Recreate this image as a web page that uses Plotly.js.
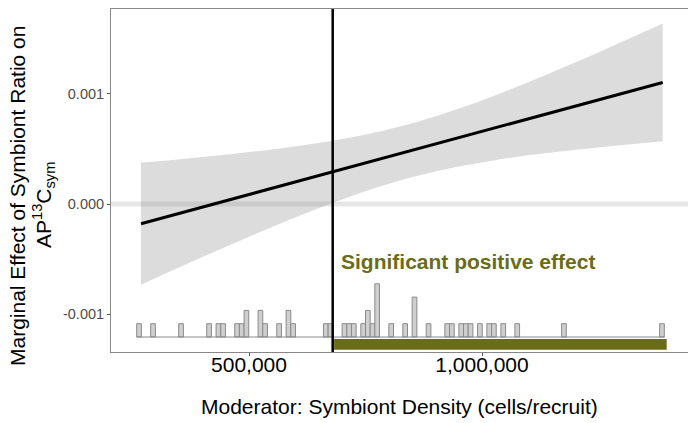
<!DOCTYPE html>
<html>
<head>
<meta charset="utf-8">
<script src="https://cdn.plot.ly/plotly-3.0.1.min.js"></script>
<style>html,body{margin:0;padding:0;background:#fff;}#chart{width:688px;height:423px;}</style>
</head>
<body>
<div id="chart"></div>
<script>
// Marginal effect line (moderator value -> effect)
const lineX = [268240, 1387770];
const lineY = [-0.000179, 0.001103];

// 95% confidence band
const bandX = [268240, 330470, 394850, 459230, 523600, 609440, 680260, 751070, 824030,
               888410, 952790, 1027900, 1103000, 1178110, 1253220, 1317600, 1387770];
const bandUpper = [0.000375, 0.000398, 0.000424, 0.000452, 0.000482, 0.000529, 0.000575, 0.000631, 0.000703,
                   0.000780, 0.000868, 0.000985, 0.001112, 0.001245, 0.001382, 0.001503, 0.001637];
const bandLower = [-0.000732, -0.000613, -0.000491, -0.000372, -0.000255, -0.000105, 0.000011, 0.000117, 0.000213,
                   0.000283, 0.000342, 0.000398, 0.000444, 0.000482, 0.000516, 0.000543, 0.000570];

// threshold where the effect becomes significant, and significant range
const threshold = 679600;
const sigStart = 682600;
const sigEnd = 1396350;
const sigLabel = "Significant positive effect";

// histogram of the moderator (bin centres and counts)
const histX = [264000, 294060, 354180, 414300, 434340, 444360, 474420, 484440, 494460, 524520,
               534540, 564600, 584640, 594660, 664800, 674820, 704880, 714900, 724920, 744960,
               754980, 765000, 775020, 805080, 835140, 855180, 885240, 925320, 935340, 955380,
               965400, 975420, 995460, 1015500, 1025520, 1045560, 1075620, 1175820, 1386240];
const histCounts = [1, 1, 1, 1, 1, 1, 1, 1, 2, 2,
                    1, 1, 2, 1, 1, 1, 1, 1, 1, 1,
                    2, 1, 4, 1, 1, 3, 1, 1, 1, 1,
                    1, 1, 1, 1, 1, 1, 1, 1, 1];
const binWidth = 10020;
const histBase = -0.0012069;
const countUnit = 0.0001207;

// axes
const xTickVals = [500000, 1000000];
const xTickText = ["500,000", "1,000,000"];
const yTickVals = [-0.001, 0, 0.001];
const yTickText = ["-0.001", "0.000", "0.001"];
const xTitle = "Moderator: Symbiont Density (cells/recruit)";
const yTitle1 = "Marginal Effect of Symbiont Ratio on";
const yTitle2 = "AP<sup>13</sup>C<sub>sym</sub>";

const FONT = "Liberation Sans, Arial, Helvetica, sans-serif";
const OLIVE = "#6a6d17";

const traces = [
  {x: bandX, y: bandLower, mode: "lines", line: {width: 0, color: "rgba(0,0,0,0)", shape: "spline"}, hoverinfo: "skip", showlegend: false},
  {x: bandX, y: bandUpper, mode: "lines", fill: "tonexty", fillcolor: "rgba(128,128,128,0.28)",
   line: {width: 0, color: "rgba(0,0,0,0)", shape: "spline"}, hoverinfo: "skip", showlegend: false},
  {x: lineX, y: lineY, mode: "lines", line: {color: "#000", width: 3}, showlegend: false},
  {type: "bar", x: histX, y: histCounts.map(c => c * countUnit), base: histBase, width: binWidth,
   marker: {color: "#cfcfcf", line: {color: "#8a8a8a", width: 1}}, showlegend: false},
  {x: [histX[0] - binWidth / 2, histX[histX.length - 1] + binWidth / 2], y: [histBase, histBase],
   mode: "lines", line: {color: "#8a8a8a", width: 1}, showlegend: false}
];

const layout = {
  width: 688, height: 423,
  margin: {l: 111, r: 0, t: 9, b: 71},
  paper_bgcolor: "#fff", plot_bgcolor: "#fff",
  font: {family: FONT},
  showlegend: false,
  xaxis: {
    range: [203863, 1442060], tickvals: xTickVals, ticktext: xTickText,
    ticks: "outside", ticklen: 3, tickcolor: "#555", tickwidth: 1,
    ticklabelstandoff: -9,
    showline: true, linecolor: "#888", linewidth: 1, mirror: true,
    showgrid: false, zeroline: false,
    tickfont: {size: 21, color: "#000", family: FONT}
  },
  yaxis: {
    range: [-0.001343, 0.0017695], tickvals: yTickVals, ticktext: yTickText,
    ticks: "outside", ticklen: 3, tickcolor: "#555", tickwidth: 1,
    showline: true, linecolor: "#888", linewidth: 1, mirror: false,
    showgrid: false, zeroline: false,
    tickfont: {size: 14.5, color: "#4d4d4d", family: FONT}
  },
  shapes: [
    {type: "line", xref: "paper", x0: 0, x1: 1, yref: "y", y0: 0, y1: 0,
     line: {color: "#e6e6e6", width: 5}, layer: "below"},
    {type: "line", xref: "x", x0: threshold, x1: threshold, yref: "paper", y0: 0, y1: 1,
     line: {color: "#000", width: 2.5}},
    {type: "rect", xref: "x", x0: sigStart, x1: sigEnd, yref: "y", y0: -0.001322, y1: -0.001225,
     fillcolor: OLIVE, line: {width: 0}}
  ],
  annotations: [
    {xref: "x", yref: "y", x: 693000, y: -0.000524, xanchor: "left", yanchor: "middle",
     text: "<b>" + sigLabel + "</b>", showarrow: false, font: {size: 21, color: OLIVE, family: FONT}},
    {xref: "paper", yref: "paper", x: 0.5, y: -0.1603, xanchor: "center", yanchor: "middle",
     text: xTitle, showarrow: false, font: {size: 21, color: "#000", family: FONT}},
    {xref: "paper", yref: "paper", x: -0.1629, y: 0.4548, xanchor: "center", yanchor: "middle",
     textangle: -90, text: yTitle1, showarrow: false, font: {size: 21, color: "#000", family: FONT}},
    {xref: "paper", yref: "paper", x: -0.1161, y: 0.4286, xanchor: "center", yanchor: "middle",
     textangle: -90, text: yTitle2, showarrow: false, font: {size: 21, color: "#000", family: FONT}}
  ]
};

Plotly.newPlot("chart", traces, layout, {staticPlot: true, displayModeBar: false});
</script>
</body>
</html>
